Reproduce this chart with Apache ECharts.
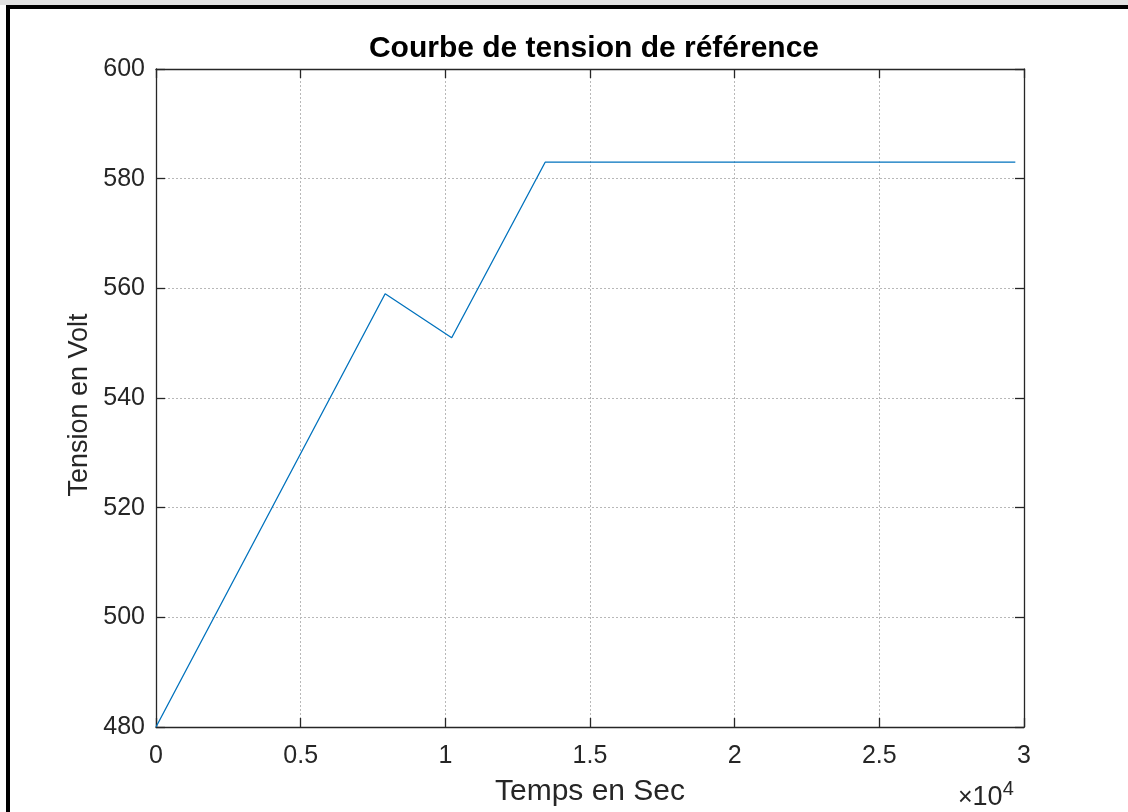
<!DOCTYPE html>
<html>
<head>
<meta charset="utf-8">
<script src="https://cdn.jsdelivr.net/npm/echarts@6/dist/echarts.min.js"></script>
<style>
  html, body { margin: 0; padding: 0; background: #fff; }
  #chart { width: 1128px; height: 812px; }
</style>
</head>
<body>
<div id="chart"></div>
<script>
// Reference voltage profile: time (s) vs voltage (V)
const timeSec = [0, 7920, 10220, 13450, 29700];
const voltage = [480, 559, 551, 583, 583];
const yTicks = [480, 500, 520, 540, 560, 580, 600];
const xTickLabels = ['0', '0.5', '1', '1.5', '2', '2.5', '3'];

const points = timeSec.map((t, i) => [t, voltage[i]]);
const font = '"Liberation Sans", Arial, Helvetica, sans-serif';
const axisColor = '#262626';

const chart = echarts.init(document.getElementById('chart'), null, { renderer: 'canvas' });

const gridLine = { show: true, lineStyle: { color: '#b8b8b8', type: [2, 2], width: 1 } };
const frameAxis = {
  axisLine: { show: true, onZero: false, lineStyle: { color: axisColor, width: 1.3 } },
  axisTick: { show: true, inside: true, length: 9, lineStyle: { color: axisColor, width: 1.3 } }
};

chart.setOption({
  animation: false,
  backgroundColor: '#ffffff',
  title: {
    text: 'Courbe de tension de référence',
    left: 589, top: 29, textAlign: 'center',
    textStyle: { fontFamily: font, fontSize: 30, fontWeight: 'bold', color: '#000' }
  },
  grid: { left: 156, right: 104, top: 69, bottom: 85, containLabel: false },
  xAxis: [
    Object.assign({
      type: 'value', min: 0, max: 30000, interval: 5000,
      name: 'Temps en Sec', nameLocation: 'middle', nameGap: 50,
      nameTextStyle: { fontFamily: font, fontSize: 30, color: axisColor },
      axisLabel: {
        fontFamily: font, fontSize: 25, color: axisColor, margin: 17,
        formatter: v => xTickLabels[Math.round(v / 5000)]
      },
      splitLine: gridLine
    }, frameAxis),
    Object.assign({
      type: 'value', position: 'top', min: 0, max: 30000, interval: 5000,
      axisLabel: { show: false },
      splitLine: { show: false }
    }, frameAxis)
  ],
  yAxis: [
    Object.assign({
      type: 'value', min: yTicks[0], max: yTicks[yTicks.length - 1], interval: 20,
      axisLabel: { fontFamily: font, fontSize: 25, color: axisColor, margin: 11 },
      splitLine: gridLine
    }, frameAxis),
    Object.assign({
      type: 'value', position: 'right', min: yTicks[0], max: yTicks[yTicks.length - 1], interval: 20,
      axisLabel: { show: false },
      splitLine: { show: false }
    }, frameAxis)
  ],
  series: [{
    type: 'line',
    data: points,
    xAxisIndex: 0, yAxisIndex: 0,
    showSymbol: false, symbol: 'none',
    lineStyle: { color: '#0072BD', width: 1.3 },
    z: 3
  }],
  graphic: [
    // frame strip along the top and left edges
    { type: 'rect', shape: { x: 0, y: 0, width: 1128, height: 5 }, style: { fill: '#e2e2e2' }, silent: true },
    { type: 'rect', shape: { x: 6, y: 5, width: 1122, height: 4 }, style: { fill: '#000' }, silent: true },
    { type: 'rect', shape: { x: 6, y: 5, width: 4, height: 807 }, style: { fill: '#000' }, silent: true },
    // vertical axis title
    {
      type: 'text', x: 80, y: 405, rotation: Math.PI / 2,
      style: {
        text: 'Tension en Volt', fontFamily: font, fontSize: 27, fill: axisColor,
        align: 'center', verticalAlign: 'middle'
      }
    },
    // exponent marker for the time axis
    {
      type: 'text', left: 958, top: 779,
      style: {
        text: '{x|×}{b|10}{e|4}',
        rich: {
          x: { fontFamily: font, fontSize: 25, fill: axisColor, verticalAlign: 'bottom' },
          b: { fontFamily: font, fontSize: 27, fill: axisColor, verticalAlign: 'bottom' },
          e: { fontFamily: font, fontSize: 20, fill: axisColor, verticalAlign: 'top', padding: [0, 0, 12, 0] }
        }
      }
    }
  ]
});
</script>
</body>
</html>
